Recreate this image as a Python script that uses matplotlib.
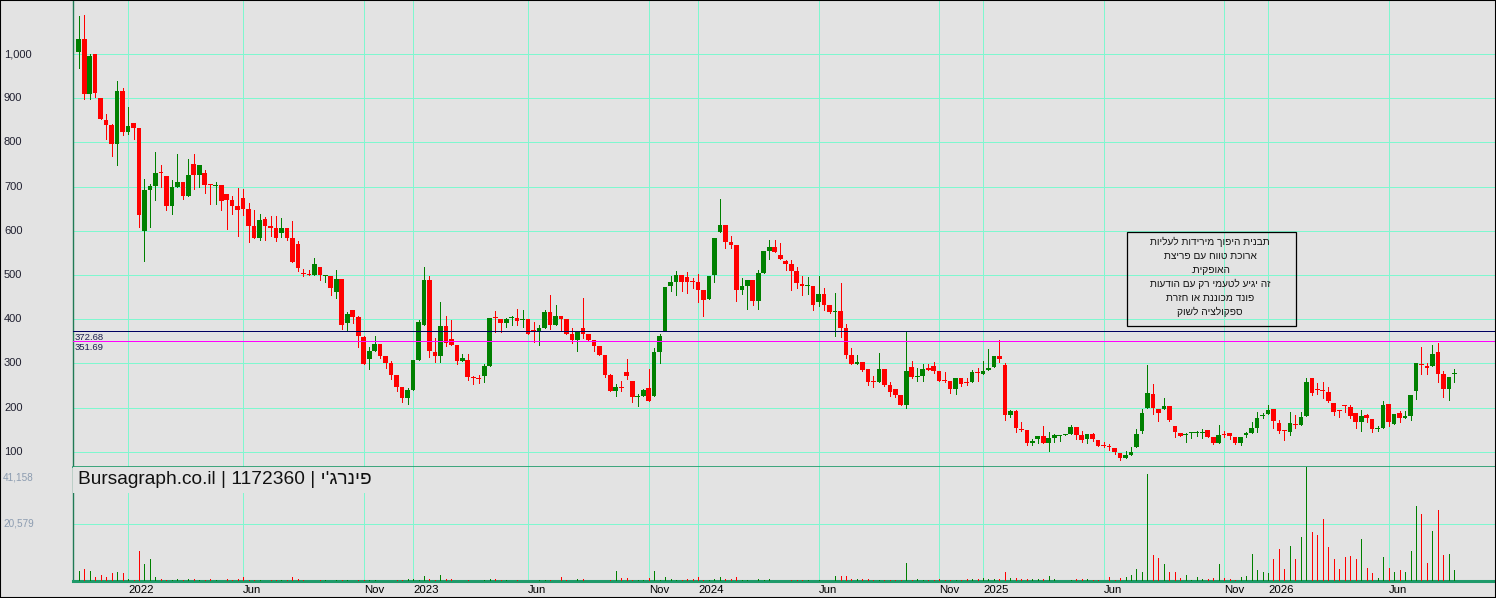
import matplotlib
matplotlib.use("Agg")
import matplotlib.pyplot as plt
import matplotlib.transforms as mtransforms
from matplotlib.patches import Rectangle
import pandas as pd
import numpy as np

# ---------------- data ----------------
start_date = "2021-11-04"

opens = [1005,1035,910,1000,900,851,839,797,916,824,844,833,600,693,702,731,724,657,700,710,
         679,751,726,731,704,702,703,683,670,656,674,649,611,584,627,611,606,595,606,584,
         570,504,502,500,518,498,497,461,492,392,421,405,360,311,329,344,316,302,273,246,
         222,239,308,388,489,326,317,385,355,342,305,308,268,266,272,295,403,401,392,403,
         403,398,401,375,370,381,417,386,408,401,367,354,380,367,352,339,319,273,238,246,
         280,261,224,227,245,227,325,373,476,485,500,496,485,485,465,445,501,598,614,574,
         568,465,474,489,442,505,555,564,546,532,525,510,480,475,476,440,457,431,417,419,
         381,320,298,304,288,260,257,288,251,242,229,205,291,270,272,290,294,283,261,261,
         241,267,258,257,280,276,284,291,317,297,184,193,150,150,120,128,136,121,132,136,
         137,141,156,137,129,141,127,113,111,109,98,85,93,111,146,200,231,197,197,203,
         158,142,139,142,142,142,150,133,121,140,142,133,121,138,142,154,180,185,197,165,
         149,145,161,160,180,267,241,239,236,211,194,205,202,188,167,183,174,152,153,209,
         162,188,176,182,237,298,295,293,326,275,243,276]
highs = [1086,1088,1000,1000,901,864,842,940,923,879,844,833,717,707,778,749,724,715,774,710,
         762,774,749,738,704,710,703,683,679,697,695,663,647,638,631,633,633,629,606,623,
         577,514,511,538,518,499,497,512,492,417,421,408,362,337,362,344,316,305,273,246,
         245,308,398,519,498,358,439,408,398,342,321,321,272,274,298,403,419,401,403,408,
         423,421,401,394,388,421,455,433,408,401,380,372,448,367,352,339,319,277,253,260,
         310,261,230,243,288,335,367,473,498,510,500,507,494,503,465,498,584,672,614,589,
         568,494,489,489,512,555,580,580,573,534,534,519,498,496,476,498,471,433,460,482,
         390,334,318,304,288,272,323,288,257,242,229,372,306,290,299,299,303,283,281,261,
         267,267,267,284,290,306,333,317,352,301,195,195,168,150,128,136,159,145,141,136,
         141,160,156,146,141,143,127,122,118,109,98,102,111,151,197,297,254,197,222,203,
         158,142,142,145,148,151,150,133,161,148,142,133,133,145,167,189,188,206,197,173,
         149,190,183,190,268,267,256,258,246,211,194,206,206,188,195,185,174,159,216,209,
         185,193,193,229,302,338,302,341,347,283,270,288]
lows = [969,899,899,903,853,808,770,750,817,819,808,609,532,609,670,700,647,638,700,672,
        679,695,700,686,661,661,647,604,637,588,636,575,584,580,580,588,578,586,580,529,
        509,498,501,500,489,484,455,449,378,373,391,338,299,288,329,313,290,265,238,213,
        208,239,308,388,315,304,304,340,342,299,305,262,254,256,258,295,370,370,383,386,
        388,383,367,349,342,381,377,386,373,367,347,327,358,354,329,319,269,238,227,238,
        265,213,203,227,216,227,300,373,463,454,463,460,470,440,408,445,485,598,560,560,
        442,456,424,431,424,505,536,551,537,512,465,470,454,456,420,429,420,413,363,359,
        313,298,298,282,250,246,257,248,227,223,205,200,266,261,261,284,279,261,257,232,
        230,248,252,257,261,276,284,291,303,173,178,144,148,116,116,119,119,101,122,125,
        137,141,130,122,120,125,114,111,104,94,81,85,93,111,142,200,185,169,197,169,
        133,135,122,132,135,132,133,117,120,133,129,117,115,133,142,145,176,185,153,142,
        127,137,154,160,180,229,231,221,213,184,178,191,176,153,148,167,144,146,153,159,
        162,167,176,171,219,275,277,293,257,225,218,259]
closes = [1035,910,995,912,854,840,797,916,824,837,833,636,692,702,731,730,657,699,710,679,
          726,726,749,704,703,703,667,670,656,647,649,611,584,624,611,606,584,606,584,529,
          516,503,501,525,499,499,470,492,388,412,406,361,299,328,344,317,302,274,247,222,
          239,308,394,489,327,317,385,347,342,305,312,270,267,265,293,403,402,392,401,404,
          397,399,367,374,380,417,386,408,401,367,354,372,367,354,340,319,274,238,246,244,
          272,224,227,239,216,326,362,473,485,500,485,485,484,465,444,498,584,614,574,569,
          465,474,489,442,505,555,564,551,537,525,510,481,476,476,431,457,431,417,418,381,
          320,298,304,286,259,259,288,251,236,229,205,283,270,272,288,286,283,261,260,241,
          267,254,256,281,279,283,290,317,311,184,193,153,149,120,125,136,120,132,138,137,
          141,156,137,127,141,130,114,112,110,99,85,93,100,141,188,234,199,188,203,173,
          145,135,140,143,143,143,133,121,138,139,135,121,133,142,154,177,181,195,169,148,
          148,165,160,179,258,234,240,238,214,189,193,204,182,167,182,176,152,153,206,167,
          185,176,182,229,302,297,290,322,275,243,270,277]
volumes = [3620,4350,3620,1450,2170,1450,2900,3260,2900,720,360,10860,6160,7970,1450,720,360,360,720,360,
           720,720,360,360,720,360,0,720,360,720,1450,360,360,360,0,360,360,360,360,1450,
           720,360,0,0,360,360,0,360,360,360,0,360,360,360,360,0,0,0,360,360,
           720,720,360,1810,720,360,2170,720,720,0,0,360,0,0,360,720,720,360,360,0,
           360,0,0,0,360,360,360,0,1450,360,0,720,720,0,0,0,0,360,3740,1200,
           1090,360,360,360,1090,3740,480,1450,850,360,360,850,850,1450,360,360,850,1570,850,600,
           1570,360,360,0,850,360,850,0,0,0,360,360,360,360,0,360,0,0,1930,1930,
           1930,850,600,850,850,360,360,360,360,360,360,6640,360,850,360,360,360,850,360,360,
           360,360,850,850,850,1200,850,600,600,3140,1200,1200,850,600,850,600,850,1690,600,0,
           0,360,600,850,600,360,360,0,1450,360,1090,1450,2170,4350,3260,38750,9410,8330,6160,3260,
           3260,1090,2170,360,1450,720,720,1090,6160,1090,720,360,1450,1810,9780,3980,3260,2900,7970,11590,
           4350,12670,7970,15930,42000,17740,16660,22450,12310,7970,4350,8690,9050,7970,15210,4710,2900,1090,8690,4710,
           3260,3980,3260,10860,27160,24260,6520,18100,25710,9410,9780,3980]

price_ticks = [100, 200, 300, 400, 500, 600, 700, 800, 900, 1000]
price_tick_labels = ["100", "200", "300", "400", "500", "600", "700", "800", "900", "1,000"]
vol_ticks = [20579, 41158]
vol_tick_labels = ["20,579", "41,158"]
level_lines = [372.68, 351.69]
level_labels = ["372.68", "351.69"]
title_text = "Bursagraph.co.il | 1172360 | " + "פינרג'י"[::-1]
note_lines = ["תבנית היפוך מירידות לעליות",
              "ארוכת טווח עם פריצת",
              "האופקית.",
              "זה יגיע לטעמי רק עם הודעות",
              "פונד מכוננת או חזרת",
              "ספקולציה לשוק"]

# ---------------- style ----------------
W, H = 1496, 598
BG = "#e3e3e3"
GRID = "#7ff7cf"
UP = "#008000"
DOWN = "#ff0000"
FONT = ["Liberation Sans", "DejaVu Sans"]
plt.rcParams["font.family"] = FONT
PX = 0.72  # one pixel in points at dpi 100

n = len(opens)
dates = pd.date_range(start=start_date, periods=n, freq="7D")
x = np.arange(n)
o = np.array(opens, float); c = np.array(closes, float)
hi = np.array(highs, float); lo = np.array(lows, float)
vol = np.array(volumes, float)
up = c >= o
colors = np.where(up, UP, DOWN)

fig = plt.figure(figsize=(W / 100, H / 100), dpi=100, facecolor=BG)

def px_rect(l, t, r, b):
    return [l / W, 1 - b / H, (r - l) / W, (b - t) / H]

ax = fig.add_axes(px_rect(73, 0, 1496, 467), facecolor=BG)
axv = fig.add_axes(px_rect(73, 467, 1496, 581), facecolor=BG, sharex=ax)

xmin, xmax = -1.04, 258.6
ax.set_xlim(xmin, xmax)
ax.set_ylim(65.6, 1122.2)
axv.set_ylim(0, 41158)

# month gridlines at first candle of Jan/Jun/Nov
grid_idx, grid_lab = [], []
for i in range(1, n):
    if dates[i].month != dates[i - 1].month and dates[i].month in (1, 6, 11):
        grid_idx.append(i)
        grid_lab.append(str(dates[i].year) if dates[i].month == 1 else dates[i].strftime("%b"))

for a in (ax, axv):
    for gi in grid_idx:
        a.axvline(gi, color=GRID, lw=PX, zorder=0, antialiased=False)
for t in price_ticks:
    ax.axhline(t, color=GRID, lw=PX, zorder=0, antialiased=False)
axv.axhline(vol_ticks[0], color=GRID, lw=PX, zorder=0, antialiased=False)

# candles
ax.vlines(x, lo, hi, colors=colors, lw=PX, zorder=3, antialiased=False)
body_h = np.maximum(np.abs(c - o), 2.3)
ax.bar(x, body_h, bottom=np.minimum(o, c), width=0.85, color=colors, lw=0, zorder=4)

# level lines
ax.axhline(level_lines[0], color="#000060", lw=PX, zorder=5, antialiased=False)
ax.axhline(level_lines[1], color="#ff00ff", lw=PX, zorder=5, antialiased=False)
for val, lab in zip(level_lines, level_labels):
    ax.annotate(lab, xy=(0, val), xycoords=("axes fraction", "data"),
                xytext=(2, -6.5), textcoords="offset pixels", fontsize=6.8,
                color="#202050", va="center", ha="left", zorder=6)

# volume bars
axv.vlines(x, 0, vol, colors=colors, lw=PX, zorder=3, antialiased=False)

# spines
for a in (ax, axv):
    for s in a.spines.values():
        s.set_visible(False)
    a.tick_params(left=False, bottom=False, labelleft=False, labelbottom=False)
ax.spines["left"].set_visible(True); ax.spines["left"].set_color("#207a55"); ax.spines["left"].set_linewidth(1)
ax.spines["bottom"].set_visible(True); ax.spines["bottom"].set_color("#1f9a6a"); ax.spines["bottom"].set_linewidth(1.2)
axv.spines["left"].set_visible(True); axv.spines["left"].set_color("#207a55"); axv.spines["left"].set_linewidth(1)
axv.spines["bottom"].set_visible(True); axv.spines["bottom"].set_color("#1f9a6a"); axv.spines["bottom"].set_linewidth(2.2)

# price labels (left, outside)
tr = mtransforms.blended_transform_factory(fig.transFigure, ax.transData)
for t, lab in zip(price_ticks, price_tick_labels):
    ax.text(4 / W, t, lab, transform=tr, fontsize=8, color="#202030", ha="left", va="center", clip_on=False)
trv = mtransforms.blended_transform_factory(fig.transFigure, axv.transData)
axv.text(3 / W, vol_ticks[0], vol_tick_labels[0], transform=trv, fontsize=7.2, color="#8c9cb0",
         ha="left", va="center", clip_on=False)
fig.text(3 / W, 1 - 477 / H, vol_tick_labels[1], fontsize=7.2, color="#8c9cb0", ha="left", va="center")

# x labels
for gi, lab in zip(grid_idx, grid_lab):
    axv.annotate(lab, xy=(gi, 0), xycoords=("data", "axes fraction"), xytext=(0, -9),
                 textcoords="offset pixels", fontsize=8.2, color="black", ha="left", va="center",
                 annotation_clip=False)

# title
fig.text(78 / W, 1 - 480 / H, title_text, fontsize=13.8, color="#111111", ha="left", va="center",
         family=FONT, bbox=dict(boxstyle="square,pad=0.25", fc=BG, ec="none"), zorder=10)

# note box
fig.patches.append(Rectangle((1127 / W, 1 - 326 / H), (1296 - 1127) / W, (326 - 232) / H,
                             transform=fig.transFigure, fill=False, ec="black", lw=0.9, zorder=10))
for k, line in enumerate(note_lines):
    fig.text(1210 / W, 1 - (242.3 + 13.9 * k) / H, line[::-1], fontsize=7.3, color="#111111",
             ha="center", va="center", family=FONT, zorder=11)

# outer frame
fig.patches.append(Rectangle((0, 0), 1, 1, transform=fig.transFigure, fill=False,
                             ec="black", lw=1.5, zorder=20))

fig.savefig("out.png", dpi=100, facecolor=BG)
